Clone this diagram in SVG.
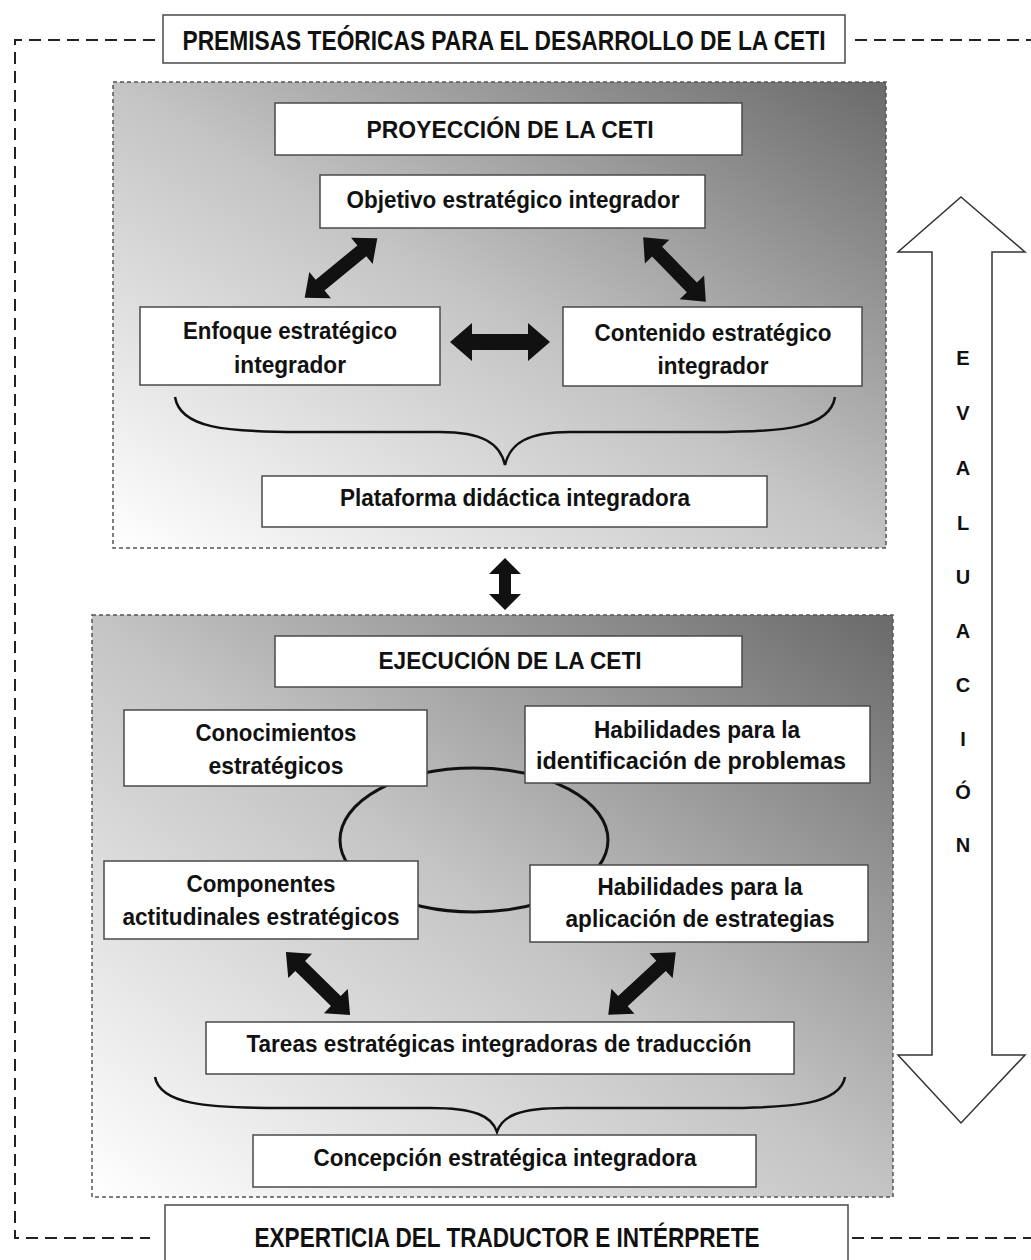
<svg xmlns="http://www.w3.org/2000/svg" width="1031" height="1260" viewBox="0 0 1031 1260">
<style>
.box{fill:#fff;stroke:#4a4a4a;stroke-width:1.5}
.t{font-family:"Liberation Sans Narrow","Liberation Sans",Arial,sans-serif;font-weight:bold;fill:#111;text-anchor:middle;dominant-baseline:central}
.t22{font-size:24px}
.t26{font-size:28px}
.ev{font-family:"Liberation Sans",Arial,sans-serif;font-weight:bold;font-size:20px;fill:#111;text-anchor:middle;dominant-baseline:central}
.panel{stroke:#555;stroke-width:1.5;stroke-dasharray:4 3}
.outer{fill:none;stroke:#222;stroke-width:2;stroke-dasharray:12 7}
.brace{fill:none;stroke:#111;stroke-width:2.5}
.arr{fill:#111}
</style>
<defs>
<linearGradient id="g" x1="0" y1="1" x2="1" y2="0">
<stop offset="0" stop-color="#ffffff"/>
<stop offset="0.5" stop-color="#c4c4c4"/>
<stop offset="1" stop-color="#6a6a6a"/>
</linearGradient>
</defs>

<g id="outer-frame">
<path class="outer" d="M155,40 H15 V1238 H150"/>
<path class="outer" d="M855,40 H1031"/>
<path class="outer" d="M852,1238 H1031"/>
</g>

<g id="premisas">
<rect class="box" x="163" y="15" width="682" height="48"/>
<text class="t t26" x="504" y="40" textLength="643" lengthAdjust="spacingAndGlyphs">PREMISAS TEÓRICAS PARA EL DESARROLLO DE LA CETI</text>
</g>

<g id="panel-proyeccion">
<rect class="panel" x="113" y="82" width="773" height="466" fill="url(#g)"/>
</g>

<g id="panel-ejecucion">
<rect class="panel" x="92" y="615" width="801" height="582" fill="url(#g)"/>
</g>

<g id="connectors">
<path class="brace" d="M175,397 C180,428 225,432 300,432 L440,432 C482,432 500,443 505,465 C510,443 528,432 570,432 L710,432 C785,432 830,428 835,397"/>
<path class="brace" d="M155,1077 C160,1104 205,1108 280,1108 L430,1108 C475,1108 492,1116 497,1132 C502,1116 519,1108 565,1108 L720,1108 C795,1108 840,1104 845,1077"/>
<ellipse cx="474" cy="840" rx="134" ry="72" fill="none" stroke="#111" stroke-width="3"/>
<path class="arr" transform="translate(500,342)" d="M-50,0 L-28,-19 L-28,-8 L28,-8 L28,-19 L50,0 L28,19 L28,8 L-28,8 L-28,19 Z"/>
<path class="arr" transform="translate(341,268) rotate(140.6)" d="M-47,0 L-27,-17 L-27,-7 L27,-7 L27,-17 L47,0 L27,17 L27,7 L-27,7 L-27,17 Z"/>
<path class="arr" transform="translate(674.5,269.5) rotate(45.9)" d="M-45,0 L-25,-17 L-25,-7 L25,-7 L25,-17 L45,0 L25,17 L25,7 L-25,7 L-25,17 Z"/>
<path class="arr" transform="translate(505,584) rotate(90)" d="M-26,0 L-10,-16 L-10,-6 L10,-6 L10,-16 L26,0 L10,16 L10,6 L-10,6 L-10,16 Z"/>
<path class="arr" transform="translate(318,983.5) rotate(44.5)" d="M-45,0 L-25,-17 L-25,-7 L25,-7 L25,-17 L45,0 L25,17 L25,7 L-25,7 L-25,17 Z"/>
<path class="arr" transform="translate(642,983.5) rotate(137.2)" d="M-46,0 L-26,-17 L-26,-7 L26,-7 L26,-17 L46,0 L26,17 L26,7 L-26,7 L-26,17 Z"/>
</g>

<g id="proyeccion">
<rect class="box" x="275" y="103" width="467" height="52"/>
<text class="t t22" x="510" y="129" textLength="287" lengthAdjust="spacingAndGlyphs">PROYECCIÓN DE LA CETI</text>
</g>
<g id="objetivo">
<rect class="box" x="320" y="175" width="385" height="53"/>
<text class="t t22" x="513" y="199" textLength="333" lengthAdjust="spacingAndGlyphs">Objetivo estratégico integrador</text>
</g>
<g id="enfoque">
<rect class="box" x="140" y="307" width="300" height="78"/>
<text class="t t22" x="290" y="330" textLength="214" lengthAdjust="spacingAndGlyphs">Enfoque estratégico</text>
<text class="t t22" x="290" y="364" textLength="112" lengthAdjust="spacingAndGlyphs">integrador</text>
</g>
<g id="contenido">
<rect class="box" x="563" y="307" width="299" height="79"/>
<text class="t t22" x="713" y="332" textLength="237" lengthAdjust="spacingAndGlyphs">Contenido estratégico</text>
<text class="t t22" x="713" y="365" textLength="111" lengthAdjust="spacingAndGlyphs">integrador</text>
</g>
<g id="plataforma">
<rect class="box" x="262" y="476" width="505" height="51"/>
<text class="t t22" x="515" y="497" textLength="350" lengthAdjust="spacingAndGlyphs">Plataforma didáctica integradora</text>
</g>

<g id="ejecucion">
<rect class="box" x="275" y="636" width="467" height="51"/>
<text class="t t22" x="510" y="660" textLength="263" lengthAdjust="spacingAndGlyphs">EJECUCIÓN DE LA CETI</text>
</g>
<g id="conocimientos">
<rect class="box" x="124" y="710" width="303" height="76"/>
<text class="t t22" x="276" y="732" textLength="161" lengthAdjust="spacingAndGlyphs">Conocimientos</text>
<text class="t t22" x="276" y="765" textLength="135" lengthAdjust="spacingAndGlyphs">estratégicos</text>
</g>
<g id="habilidades-identificacion">
<rect class="box" x="525" y="706" width="345" height="77"/>
<text class="t t22" x="697" y="729" textLength="206" lengthAdjust="spacingAndGlyphs">Habilidades para la</text>
<text class="t t22" x="691" y="760" textLength="310" lengthAdjust="spacingAndGlyphs">identificación de problemas</text>
</g>
<g id="componentes">
<rect class="box" x="104" y="861" width="314" height="78"/>
<text class="t t22" x="261" y="883" textLength="149" lengthAdjust="spacingAndGlyphs">Componentes</text>
<text class="t t22" x="261" y="916" textLength="277" lengthAdjust="spacingAndGlyphs">actitudinales estratégicos</text>
</g>
<g id="habilidades-aplicacion">
<rect class="box" x="530" y="865" width="338" height="77"/>
<text class="t t22" x="700" y="886" textLength="205" lengthAdjust="spacingAndGlyphs">Habilidades para la</text>
<text class="t t22" x="700" y="918" textLength="269" lengthAdjust="spacingAndGlyphs">aplicación de estrategias</text>
</g>
<g id="tareas">
<rect class="box" x="206" y="1022" width="588" height="52"/>
<text class="t t22" x="499" y="1043" textLength="505" lengthAdjust="spacingAndGlyphs">Tareas estratégicas integradoras de traducción</text>
</g>
<g id="concepcion">
<rect class="box" x="253" y="1135" width="503" height="52"/>
<text class="t t22" x="505" y="1157" textLength="383" lengthAdjust="spacingAndGlyphs">Concepción estratégica integradora</text>
</g>

<g id="experticia">
<rect class="box" x="165" y="1205" width="683" height="60"/>
<text class="t t26" x="507" y="1237" textLength="505" lengthAdjust="spacingAndGlyphs">EXPERTICIA DEL TRADUCTOR E INTÉRPRETE</text>
</g>

<g id="evaluacion">
<polygon points="961,197 1025,252 992,252 992,1055 1025,1055 961,1123 898,1055 932,1055 932,252 898,252" fill="#fff" stroke="#333" stroke-width="1.5"/>
<text class="ev" x="963" y="358">E</text>
<text class="ev" x="963" y="413">V</text>
<text class="ev" x="963" y="468">A</text>
<text class="ev" x="963" y="523">L</text>
<text class="ev" x="963" y="577">U</text>
<text class="ev" x="963" y="631">A</text>
<text class="ev" x="963" y="685">C</text>
<text class="ev" x="963" y="739">I</text>
<text class="ev" x="963" y="792">Ó</text>
<text class="ev" x="963" y="845">N</text>
</g>
</svg>
